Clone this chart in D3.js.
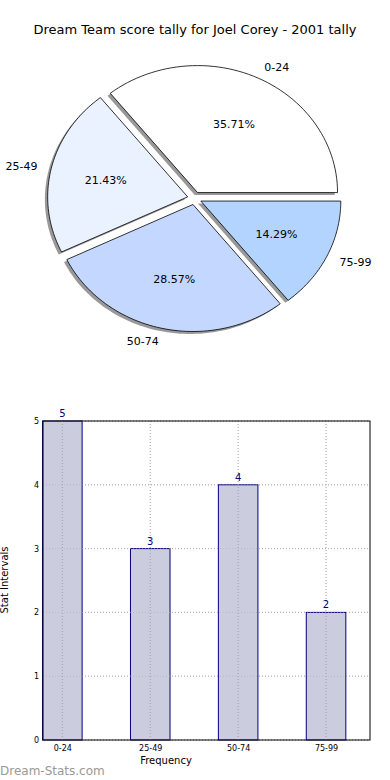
<!DOCTYPE html>
<html><head><meta charset="utf-8">
<script src="https://cdn.jsdelivr.net/npm/d3@7"></script>
<style>body{margin:0;background:#fff}svg{display:block;font-family:"DejaVu Sans",sans-serif}</style>
</head><body>
<svg id="c" width="390" height="780"></svg>
<script>
const categories = ["0-24","25-49","50-74","75-99"];
const counts = [5,3,4,2];
const pieColors = ["#ffffff","#eaf1ff","#c4d8ff","#b3d4ff"];
const yTicks = [0,1,2,3,4,5];
const title = "Dream Team score tally for Joel Corey - 2001 tally";

const svg = d3.select("#c");
svg.append("text").attr("x",195).attr("y",34).attr("text-anchor","middle")
  .attr("font-size",13).attr("fill","#000").text(title);

// Pie (matplotlib-like: start at 0 deg, counterclockwise, elliptical)
const cx = 194.5, cy = 198.3, rx = 140, ry = 127, explode = 0.05;
const total = d3.sum(counts);
const ang = d3.scaleLinear().domain([0,total]).range([0,2*Math.PI]);
let acc = 0;
const slices = counts.map((v,i)=>{const a0=ang(acc); acc+=v; const a1=ang(acc); return {i,v,a0,a1,mid:(a0+a1)/2};});
function wedgePath(s, ox, oy){
  const x0 = cx+ox, y0 = cy+oy;
  const n = 60, pts=[[x0,y0]];
  for(let k=0;k<=n;k++){const a=s.a0+(s.a1-s.a0)*k/n; pts.push([x0+rx*Math.cos(a), y0-ry*Math.sin(a)]);}
  return d3.line()(pts)+"Z";
}
const gp = svg.append("g");
slices.forEach(s=>{
  const ox = explode*rx*Math.cos(s.mid), oy = -explode*ry*Math.sin(s.mid);
  gp.append("path").attr("d",wedgePath(s,ox-2.8,oy+2.5)).attr("fill","#000").attr("opacity",0.4);
});
slices.forEach(s=>{
  const ox = explode*rx*Math.cos(s.mid), oy = -explode*ry*Math.sin(s.mid);
  gp.append("path").attr("d",wedgePath(s,ox,oy)).attr("fill",pieColors[s.i]).attr("stroke","#000").attr("stroke-width",0.8);
});
slices.forEach(s=>{
  const ox = explode*rx*Math.cos(s.mid), oy = -explode*ry*Math.sin(s.mid);
  const c = Math.cos(s.mid), sn = Math.sin(s.mid);
  const lx = cx+ox+1.1*rx*c, ly = cy+oy-1.1*ry*sn;
  gp.append("text").attr("x",lx).attr("y",ly).attr("dy","0.35em")
    .attr("text-anchor", c>0?"start":"end").attr("font-size",11).text(categories[s.i]);
  const px = cx+ox+0.6*rx*c, py = cy+oy-0.6*ry*sn;
  gp.append("text").attr("x",px).attr("y",py).attr("dy","0.35em")
    .attr("text-anchor","middle").attr("font-size",11).text((s.v/total*100).toFixed(2)+"%");
});

// Bar chart
const L=43, R=370, T=421, B=740;
const x = d3.scaleLinear().domain([-0.22,3.5]).range([L,R]);
const y = d3.scaleLinear().domain([0,5]).range([B,T]);
const bw = 0.45;
const gb = svg.append("g");
gb.selectAll(".gy").data(yTicks).join("line").attr("x1",L).attr("x2",R)
  .attr("y1",d=>y(d)).attr("y2",d=>y(d)).attr("stroke","#b0b0b0").attr("stroke-dasharray","1,2").attr("stroke-width",1);
gb.selectAll(".bar").data(counts).join("rect")
  .attr("x",(d,i)=>x(i)-x(bw/2)+x(0)).attr("width",x(bw)-x(0))
  .attr("y",d=>y(d)).attr("height",d=>B-y(d))
  .attr("fill","#ccccdf").attr("stroke","#000080").attr("stroke-width",1);
gb.selectAll(".gx").data(categories).join("line").attr("x1",(d,i)=>x(i)).attr("x2",(d,i)=>x(i))
  .attr("y1",T).attr("y2",B).attr("stroke","#a0a0a0").attr("stroke-dasharray","1,2").attr("stroke-width",1);
gb.selectAll(".gy2").data(yTicks).join("line").attr("x1",L).attr("x2",R)
  .attr("y1",d=>y(d)).attr("y2",d=>y(d)).attr("stroke","#b0b0b0").attr("stroke-dasharray","1,2").attr("stroke-width",1).attr("opacity",0.6);
gb.append("rect").attr("x",L).attr("y",T).attr("width",R-L).attr("height",B-T).attr("fill","none").attr("stroke","#000").attr("stroke-width",1);
const ya = d3.axisLeft(y).tickValues(yTicks).tickFormat(d3.format("d")).tickSize(0).tickPadding(4);
gb.append("g").attr("transform",`translate(${L},0)`).call(ya).call(g=>{g.select(".domain").remove();g.selectAll("text").attr("font-size",8).attr("font-family","DejaVu Sans").attr("fill","#000");});
const xa = d3.axisBottom(x).tickValues([0,1,2,3]).tickFormat(i=>categories[i]).tickSize(0).tickPadding(5);
gb.append("g").attr("transform",`translate(0,${B})`).call(xa).call(g=>{g.select(".domain").remove();g.selectAll("text").attr("font-size",8).attr("font-family","DejaVu Sans").attr("fill","#000");});
gb.selectAll(".vl").data(counts).join("text").attr("x",(d,i)=>x(i)).attr("y",d=>y(d)-4)
  .attr("text-anchor","middle").attr("font-size",10).attr("fill","#000080").text(d=>d);
svg.append("text").attr("x",166).attr("y",764).attr("text-anchor","middle").attr("font-size",10).text("Frequency");
svg.append("text").attr("transform","translate(8,580) rotate(-90)").attr("text-anchor","middle").attr("font-size",10).text("Stat Intervals");
svg.append("text").attr("x",0).attr("y",775).attr("font-size",12).attr("fill","#999999").text("Dream-Stats.com");
</script>
</body></html>
